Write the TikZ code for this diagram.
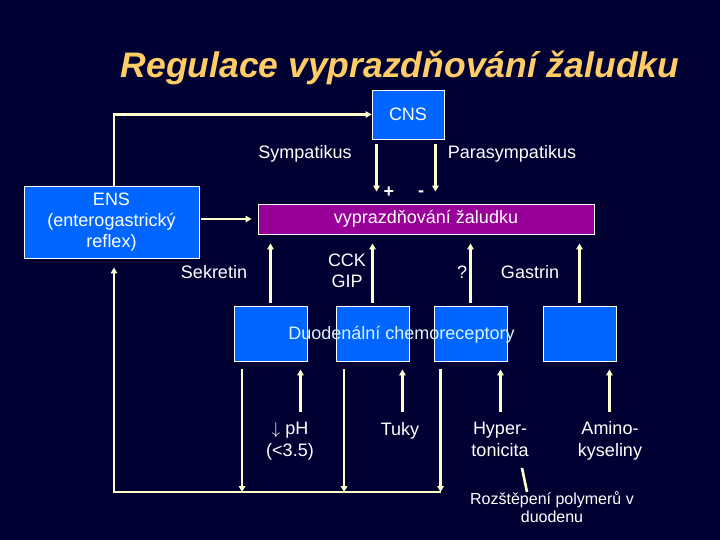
\documentclass[tikz,border=0pt]{standalone}
\usepackage{fontspec}
\setmainfont{Liberation Sans}
\usepackage{tikz}
\usetikzlibrary{arrows.meta,positioning,calc}
\definecolor{bgnavy}    {RGB}{0,0,51}
\definecolor{boxblue}   {RGB}{0,102,255}
\definecolor{emptypurp} {RGB}{153,0,153}
\definecolor{creamline} {RGB}{255,255,204}
\definecolor{titlegold} {RGB}{255,204,102}
\tikzset{
  % Blue box (CNS, ENS, receptors)
  bbox/.style={rectangle, draw=white, line width=0.9pt, fill=boxblue,
               text=white, align=center, inner sep=0pt,
               font=\fontsize{18}{21}\selectfont},
  % Purple target box
  pbox/.style={bbox, fill=emptypurp},
  % Plain white label
  lbl/.style={text=white, align=center, inner sep=0pt,
              font=\fontsize{18}{22}\selectfont},
  % Small thin note
  note/.style={text=white, align=center, inner sep=0pt,
               font=\fontsize{16}{18.5}\selectfont},
  % Arrows and plain lines
  arr/.style={-{Triangle[length=6pt,width=6.5pt]}, line width=2.4pt,
              draw=creamline},
  lnk/.style={line width=2.4pt, draw=creamline},
}

\begin{document}
\begin{tikzpicture}[x=1pt,y=-1pt]

    \fill[bgnavy] (0,0) rectangle (720,540);
    \useasboundingbox (0,0) rectangle (720,540);

    % ── Title ──────────────────────────────────────────────
    \node[anchor=base,inner sep=0pt,text=titlegold,
          font=\fontsize{35.5}{40}\selectfont\bfseries\itshape] (title)
          at (400,78) {Regulace vyprazdňování žaludku};

    % ── Boxes ──────────────────────────────────────────────
    \node[bbox,minimum width=72pt,minimum height=49pt] (cns)
          at (408,114.5) {CNS};
    \node[bbox,minimum width=175pt,minimum height=72pt] (ens)
          at (111.5,222) {ENS\\(enterogastrický\\reflex)};
    \node[pbox,minimum width=336pt,minimum height=30pt] (vypr)
          at (426,219) {vyprazdňování žaludku};

    % ── Receptor boxes ─────────────────────────────────────
    \node[bbox,minimum width=73pt,minimum height=55pt] (r1) at (270.5,333.5) {};
    \node[bbox,minimum width=73pt,minimum height=55pt] (r2) at (372.5,333.5) {};
    \node[bbox,minimum width=73pt,minimum height=55pt] (r3) at (470.5,333.5) {};
    \node[bbox,minimum width=73pt,minimum height=55pt] (r4) at (579.5,333.5) {};
    \node[lbl,anchor=base,text=white!85!cyan] (duod) at (401.5,339)
          {Duodenální chemoreceptory};

    % ── Nerve labels ───────────────────────────────────────
    \node[lbl,anchor=base] (symp) at (305,159) {Sympatikus};
    \node[lbl,anchor=base] (paras) at (512,159) {Parasympatikus};
    \node[lbl,font=\fontsize{18}{22}\selectfont\bfseries] (plus) at (389,192) {+};
    \node[lbl,font=\fontsize{18}{22}\selectfont\bfseries] (minus) at (421,194) {-};

    % ── Hormone labels ─────────────────────────────────────
    \node[lbl,anchor=base] (sekr) at (214,278) {Sekretin};
    \node[lbl,font=\fontsize{18}{21}\selectfont] (cck) at (347,271) {CCK\\GIP};
    \node[lbl,anchor=base] (quest) at (462,278) {?};
    \node[lbl,anchor=base] (gastr) at (530,278) {Gastrin};

    % ── Stimulus labels ────────────────────────────────────
    \node[lbl] (ph) at (290,441.5) {$\downarrow$ pH\\(<3.5)};
    \node[lbl,anchor=base] (tuky) at (400,435) {Tuky};
    \node[lbl] (hyp) at (500,439.5) {Hyper-\\tonicita};
    \node[lbl] (amino) at (610,440.5) {Amino-\\kyseliny};
    \node[note] (roz) at (552,507) {Rozštěpení polymerů v\\duodenu};

    % ── CNS loop ───────────────────────────────────────────
    \draw[arr] ([xshift=2.5pt]ens.north) |- (cns.west);
    \draw[arr] ([xshift=5pt,yshift=-5pt]cns.south west)
          -- ([xshift=5pt,yshift=12pt]cns.south west |- vypr.north);
    \draw[arr] ([xshift=-9pt,yshift=-5pt]cns.south east)
          -- ([xshift=-9pt,yshift=12pt]cns.south east |- vypr.north);
    \draw[arr] ([xshift=2pt]ens.east |- vypr.west) -- ([xshift=-6pt]vypr.west);

    % ── Receptors to stomach ───────────────────────────────
    \draw[arr] ([yshift=3pt]r1.north) -- ([yshift=-9pt]r1.north |- vypr.south);
    \draw[arr] ([yshift=3pt]r2.north) -- ([yshift=-9pt]r2.north |- vypr.south);
    \draw[arr] ([yshift=3pt]r3.north) -- ([yshift=-9pt]r3.north |- vypr.south);
    \draw[arr] ([yshift=3pt]r4.north) -- ([yshift=-9pt]r4.north |- vypr.south);

    % ── Stimuli to receptors ───────────────────────────────
    \coordinate (stim) at (0,412);
    \draw[arr] ([xshift=-7pt]r1.south east |- stim) -- ([xshift=-7pt,yshift=-8pt]r1.south east);
    \draw[arr] ([xshift=-7pt]r2.south east |- stim) -- ([xshift=-7pt,yshift=-8pt]r2.south east);
    \draw[arr] ([xshift=-7pt]r3.south east |- stim) -- ([xshift=-7pt,yshift=-8pt]r3.south east);
    \draw[arr] ([xshift=-7pt]r4.south east |- stim) -- ([xshift=-7pt,yshift=-8pt]r4.south east);
    \draw[lnk,line width=2.6pt] ($(hyp.south)+(22,11)$) -- ($(roz.north)+(-25,1)$);

    % ── Feedback to ENS ────────────────────────────────────
    \coordinate (fb) at (114,492);
    \draw[arr] ([xshift=8.5pt,yshift=-8pt]r1.south west) -- ([xshift=8.5pt]r1.south west |- fb);
    \draw[arr] ([xshift=8.5pt,yshift=-8pt]r2.south west) -- ([xshift=8.5pt]r2.south west |- fb);
    \draw[arr] ([xshift=7pt,yshift=-8pt]r3.south west) -- ([xshift=7pt]r3.south west |- fb);
    \draw[arr] ([xshift=7pt]r3.south west |- fb) -- (fb)
          -- ([yshift=-9pt]ens.south -| fb);

  \end{tikzpicture}
\end{document}
